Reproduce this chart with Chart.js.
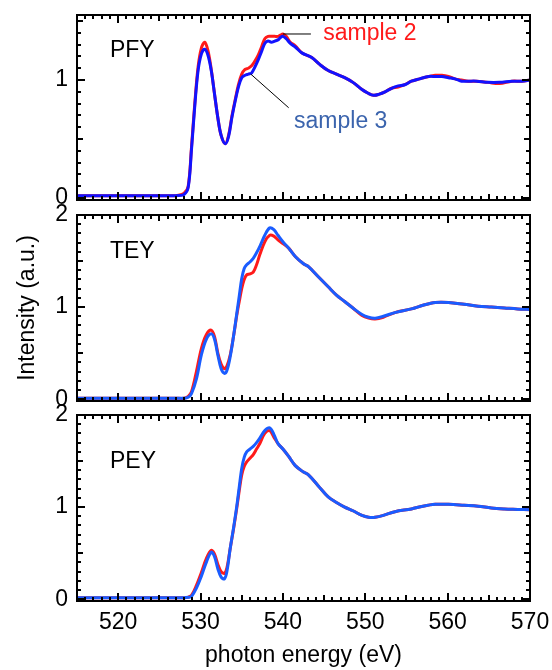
<!DOCTYPE html>
<html>
<head>
<meta charset="utf-8">
<script src="https://cdn.jsdelivr.net/npm/chart.js@4/dist/chart.umd.min.js"></script>
<style>
  body { margin: 0; background: #fff; }
  #wrap { position: relative; width: 552px; height: 670px; }
  canvas { position: absolute; left: 0; }
</style>
</head>
<body>
<div id="wrap">
  <canvas id="pfy" width="552" height="215" style="top:0px;width:552px;height:215px"></canvas>
  <canvas id="tey" width="552" height="215" style="top:200px;width:552px;height:215px"></canvas>
  <canvas id="pey" width="552" height="270" style="top:400px;width:552px;height:270px"></canvas>
</div>
<script>
// photon energy grids (eV)
const pfyEnergy = [515, 520, 525, 527, 528, 528.5, 528.9, 529.3, 529.7, 530.1, 530.5, 530.9, 531.3, 531.7,
  532.1, 532.5, 533.0, 533.4, 533.8, 534.2, 534.6, 535.0, 535.4, 535.8, 536.2, 536.6, 537.0, 537.4, 537.8,
  538.2, 538.6, 539.0, 539.4, 539.7, 540.0, 540.4, 540.9, 541.5, 542.3, 543.5, 544.5, 545.5, 546.5, 547.5,
  548.5, 549.6, 550.3, 551.0, 551.7, 552.4, 553.2, 554.0, 554.8, 555.6, 556.6, 557.7, 558.5, 559.3, 560.1,
  560.9, 561.7, 562.5, 563.5, 564.9, 566.3, 567.8, 569, 570];
const pfySample2 = [0.02, 0.02, 0.02, 0.02, 0.04, 0.10, 0.43, 0.80, 1.11, 1.27, 1.32, 1.25, 1.09, 0.88,
  0.68, 0.53, 0.46, 0.53, 0.69, 0.83, 0.96, 1.05, 1.09, 1.10, 1.12, 1.16, 1.21, 1.28, 1.35,
  1.37, 1.37, 1.37, 1.37, 1.38, 1.39, 1.37, 1.32, 1.29, 1.23, 1.19, 1.13, 1.08, 1.05, 1.02,
  0.98, 0.92, 0.89, 0.87, 0.88, 0.90, 0.93, 0.94, 0.96, 0.99, 1.01, 1.03, 1.04, 1.04, 1.03,
  1.01, 1.00, 0.99, 0.99, 0.98, 0.97, 0.99, 0.99, 1.00];
const pfySample3 = [0.02, 0.02, 0.02, 0.02, 0.03, 0.09, 0.41, 0.78, 1.08, 1.22, 1.26, 1.21, 1.08, 0.88,
  0.68, 0.53, 0.46, 0.52, 0.68, 0.82, 0.94, 1.02, 1.04, 1.05, 1.06, 1.11, 1.17, 1.24, 1.31,
  1.33, 1.32, 1.33, 1.34, 1.36, 1.37, 1.35, 1.31, 1.28, 1.23, 1.19, 1.13, 1.08, 1.05, 1.02,
  0.98, 0.92, 0.89, 0.87, 0.88, 0.90, 0.93, 0.95, 0.96, 0.99, 1.01, 1.03, 1.03, 1.03, 1.02,
  1.01, 0.99, 0.99, 0.99, 0.98, 0.98, 0.99, 0.99, 1.00];

const eyEnergy = [515, 520, 525, 527, 528, 528.5, 528.9, 529.5, 530.1, 530.7, 531.3, 531.7, 532.1, 532.5,
  532.9, 533.2, 533.6, 534.0, 534.4, 534.7, 535.0, 535.3, 535.6, 536.0, 536.4, 536.8, 537.2, 537.8,
  538.4, 538.9, 539.4, 540.0, 540.7, 541.5, 542.5, 543.1, 544.3, 545.5, 546.5, 547.5, 548.5, 549.6,
  550.4, 551.2, 552.2, 553.6, 555.6, 557.0, 558.5, 560.1, 562.0, 563.7, 565.3, 566.9, 568.5, 570];
const teySample2 = [0.01, 0.01, 0.01, 0.01, 0.01, 0.03, 0.08, 0.30, 0.55, 0.70, 0.75, 0.68, 0.50, 0.38,
  0.33, 0.36, 0.48, 0.68, 0.91, 1.06, 1.20, 1.30, 1.35, 1.36, 1.38, 1.46, 1.57, 1.71,
  1.78, 1.77, 1.73, 1.69, 1.64, 1.55, 1.47, 1.44, 1.33, 1.22, 1.13, 1.06, 0.99, 0.91,
  0.88, 0.87, 0.89, 0.94, 0.98, 1.02, 1.05, 1.05, 1.03, 1.01, 1.00, 0.99, 0.98, 0.975];
const teySample3 = [0.01, 0.01, 0.01, 0.01, 0.01, 0.02, 0.06, 0.22, 0.48, 0.65, 0.71, 0.65, 0.48, 0.33,
  0.28, 0.31, 0.46, 0.68, 0.93, 1.12, 1.31, 1.42, 1.46, 1.49, 1.53, 1.59, 1.66, 1.78,
  1.86, 1.84, 1.78, 1.71, 1.64, 1.55, 1.47, 1.44, 1.33, 1.22, 1.13, 1.06, 0.99, 0.92,
  0.89, 0.88, 0.90, 0.94, 0.98, 1.02, 1.05, 1.05, 1.03, 1.01, 1.00, 0.99, 0.98, 0.975];
const peySample2 = [0.015, 0.015, 0.015, 0.015, 0.015, 0.02, 0.04, 0.15, 0.29, 0.44, 0.53, 0.49, 0.38, 0.30,
  0.28, 0.34, 0.55, 0.76, 0.99, 1.18, 1.35, 1.44, 1.49, 1.53, 1.57, 1.63, 1.69, 1.80,
  1.83, 1.76, 1.69, 1.63, 1.55, 1.45, 1.38, 1.35, 1.23, 1.11, 1.05, 1.00, 0.96, 0.91,
  0.89, 0.89, 0.91, 0.95, 0.98, 1.01, 1.03, 1.03, 1.02, 1.01, 0.99, 0.98, 0.975, 0.97];
const peySample3 = [0.015, 0.015, 0.015, 0.015, 0.015, 0.02, 0.03, 0.12, 0.25, 0.40, 0.51, 0.46, 0.33, 0.24,
  0.22, 0.30, 0.55, 0.77, 1.01, 1.22, 1.42, 1.54, 1.60, 1.63, 1.66, 1.70, 1.75, 1.83,
  1.86, 1.79, 1.69, 1.63, 1.55, 1.45, 1.38, 1.35, 1.23, 1.11, 1.05, 1.00, 0.96, 0.91,
  0.89, 0.89, 0.91, 0.95, 0.98, 1.01, 1.03, 1.03, 1.02, 1.01, 0.99, 0.98, 0.975, 0.97];

const xTickLabels = [520, 530, 540, 550, 560, 570];
const pfyTickLabels = [0, 1];
const eyTickLabels = [0, 1, 2];

const RED = '#ff1a1a';
const FONT = "'Liberation Sans', Arial, Helvetica, sans-serif";

Chart.defaults.font.family = FONT;
Chart.defaults.font.size = 23;
Chart.defaults.color = '#000';

function pts(xs, ys) {
  return xs.map((x, i) => ({ x: x, y: ys[i] }));
}

// box frame, inward ticks on all four sides, panel texts
const frameTicks = {
  id: 'frameTicks',
  afterDraw(chart, args, opts) {
    const { ctx, chartArea: a, scales: { x, y } } = chart;
    ctx.save();
    ctx.strokeStyle = '#000';
    ctx.lineWidth = 2;
    ctx.beginPath();
    for (let e = 515; e <= 570; e++) {
      const px = Math.round(x.getPixelForValue(e));
      const len = e % 10 === 0 ? 8 : (e % 5 === 0 ? 6 : 4);
      ctx.moveTo(px, a.top); ctx.lineTo(px, a.top + len);
      ctx.moveTo(px, a.bottom); ctx.lineTo(px, a.bottom - len);
    }
    for (let k = Math.ceil(y.min * 10 - 1e-6); k <= Math.floor(y.max * 10 + 1e-6); k++) {
      const py = Math.round(y.getPixelForValue(k / 10));
      const len = k % 10 === 0 ? 8 : (k % 5 === 0 ? 6 : 4);
      ctx.moveTo(a.left, py); ctx.lineTo(a.left + len, py);
      ctx.moveTo(a.right, py); ctx.lineTo(a.right - len, py);
    }
    ctx.stroke();
    ctx.strokeRect(a.left, a.top, a.width, a.height);

    ctx.lineWidth = 1;
    (opts.lines || []).forEach(l => {
      ctx.beginPath();
      ctx.moveTo(x.getPixelForValue(l[0]), y.getPixelForValue(l[1]));
      ctx.lineTo(x.getPixelForValue(l[2]), y.getPixelForValue(l[3]));
      ctx.stroke();
    });
    ctx.font = '23px ' + FONT;
    ctx.textAlign = 'left';
    ctx.textBaseline = 'middle';
    (opts.texts || []).forEach(t => {
      ctx.fillStyle = t.color || '#000';
      ctx.fillText(t.text, x.getPixelForValue(t.x), y.getPixelForValue(t.y));
    });
    ctx.restore();
  }
};

function noPad(s) {
  s.paddingTop = 0; s.paddingBottom = 0; s.paddingLeft = 0; s.paddingRight = 0;
}

function makePanel(id, energy, s2, s3, blue, yMin, yMax, yTicks, opt) {
  return new Chart(document.getElementById(id), {
    type: 'line',
    data: {
      datasets: [
        { label: 'sample 2', data: pts(energy, s2), borderColor: RED, borderWidth: 3,
          pointRadius: 0, tension: 0.35, order: 1 },
        { label: 'sample 3', data: pts(energy, s3), borderColor: blue, borderWidth: 3,
          pointRadius: 0, tension: 0.35, order: 0 }
      ]
    },
    options: {
      responsive: false,
      animation: false,
      layout: { padding: opt.padding },
      scales: {
        x: {
          type: 'linear', min: 515, max: 570,
          display: !!opt.xAxis,
          grid: { display: false, drawTicks: false },
          border: { display: false },
          ticks: { padding: 8, autoSkip: false, maxRotation: 0 },
          afterBuildTicks: s => { s.ticks = xTickLabels.map(v => ({ value: v })); },
          afterFit: s => { noPad(s); if (opt.xAxis) s.height = 69; },
          title: { display: !!opt.xAxis, text: 'photon energy (eV)', padding: { top: 0, bottom: 1 } }
        },
        y: {
          type: 'linear', min: yMin, max: yMax,
          grid: { display: false, drawTicks: false },
          border: { display: false },
          ticks: { padding: 9 },
          afterBuildTicks: s => { s.ticks = yTicks.map(v => ({ value: v })); },
          afterFit: s => { noPad(s); s.width = 77; },
          title: { display: !!opt.yTitle, text: 'Intensity (a.u.)', padding: { top: 14, bottom: 0 } }
        }
      },
      plugins: {
        legend: { display: false },
        tooltip: { enabled: false },
        frameTicks: { texts: opt.texts, lines: opt.lines }
      }
    },
    plugins: [frameTicks]
  });
}

makePanel('pfy', pfyEnergy, pfySample2, pfySample3, '#1212ff', -0.017, 1.551, pfyTickLabels, {
  padding: { left: 0, right: 22, top: 15, bottom: 15 },
  texts: [
    { text: 'PFY', x: 519.0, y: 1.25 },
    { text: 'sample 2', x: 544.9, y: 1.39, color: RED },
    { text: 'sample 3', x: 541.35, y: 0.645, color: '#3b64ad' }
  ],
  lines: [[540.0, 1.39, 543.4, 1.39], [536.1, 1.05, 540.7, 0.765]]
});

makePanel('tey', eyEnergy, teySample2, teySample3, '#1a5cff', -0.02, 2.0, eyTickLabels, {
  padding: { left: 0, right: 22, top: 15, bottom: 14 },
  yTitle: true,
  texts: [{ text: 'TEY', x: 519.0, y: 1.60 }]
});

makePanel('pey', eyEnergy, peySample2, peySample3, '#1a5cff', -0.02, 2.0, eyTickLabels, {
  padding: { left: 0, right: 22, top: 15, bottom: 0 },
  xAxis: true,
  texts: [{ text: 'PEY', x: 519.0, y: 1.49 }]
});
</script>
</body>
</html>
